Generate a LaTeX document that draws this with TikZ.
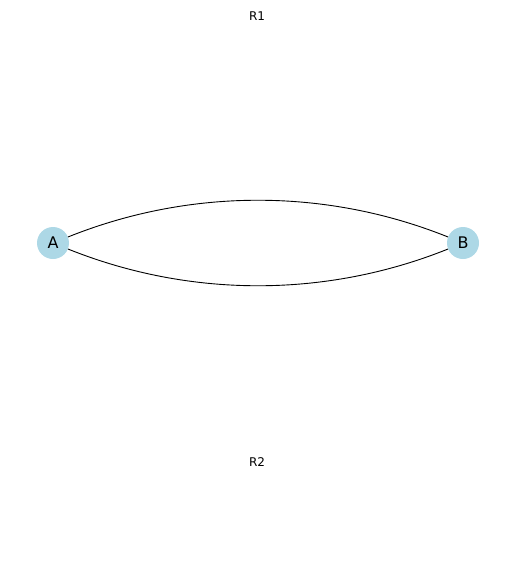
\documentclass[tikz,border=0pt]{standalone}
\usepackage{fontspec}
\setmainfont{DejaVu Sans}
\usepackage{tikz}
\definecolor{nodeblue}{RGB}{173,216,230}
\tikzset{
	vertex/.style={circle, fill=nodeblue, minimum size=32pt, inner sep=0pt, font=\fontsize{16}{16}\selectfont},
	rlabel/.style={font=\fontsize{12}{12}\selectfont},
	link/.style={line width=0.9pt, black}
}

\begin{document}
\begin{tikzpicture}[x=1pt, y=-1pt]
			%%%%% START %%%%%
			
			\useasboundingbox (0, 0) rectangle (515, 570);
			
			\node[vertex] (A) at (53, 243) {A};
			\node[vertex] (B) at (463, 243) {B};
			
			\node[rlabel] (R1) at (257, 16) {R1};
			\node[rlabel] (R2) at (257, 462) {R2};
			
			\draw[link] (A) .. controls (190, 188) and (326, 188) .. (B);
			\draw[link] (A) .. controls (190, 298) and (326, 298) .. (B);
			
			%%%%% END %%%%%
		\end{tikzpicture}
\end{document}
